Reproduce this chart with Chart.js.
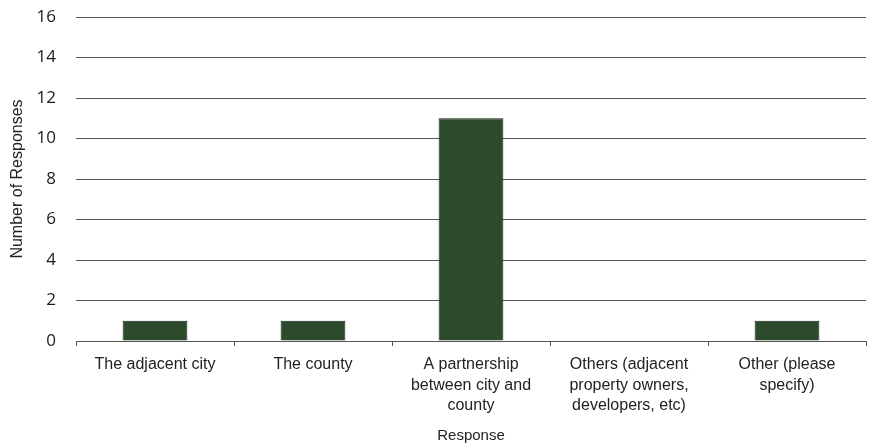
<!DOCTYPE html>
<html>
<head>
<meta charset="utf-8">
<script src="https://cdn.jsdelivr.net/npm/chart.js@4"></script>
<style>
  html, body { margin: 0; padding: 0; background: #fff; }
  #wrap { width: 878px; height: 447px; }
</style>
</head>
<body>
<div id="wrap"><canvas id="myChart"></canvas></div>
<script>
const categories = [
  'The adjacent city',
  'The county',
  ['A partnership', 'between city and', 'county'],
  ['Others (adjacent', 'property owners,', 'developers, etc)'],
  ['Other (please', 'specify)']
];
const responseCounts = [1, 1, 11, 0, 1];
const yTicks = [0, 2, 4, 6, 8, 10, 12, 14, 16];

const ctx = document.getElementById('myChart').getContext('2d');
const myChart = new Chart(ctx, {
  type: 'bar',
  data: {
    labels: categories,
    datasets: [{
      label: 'Number of Responses',
      data: responseCounts,
      backgroundColor: '#2e4a2c',
      borderColor: '#142016',
      borderWidth: 1,
      categoryPercentage: 1,
      barPercentage: 0.41
    }]
  },
  options: {
    responsive: true,
    maintainAspectRatio: false,
    animation: false,
    layout: { padding: { top: 17, right: 12, left: 8, bottom: 0 } },
    plugins: {
      legend: { display: false },
      tooltip: { enabled: false }
    },
    scales: {
      x: {
        offset: true,
        grid: {
          offset: true,
          drawOnChartArea: false,
          drawTicks: true,
          tickLength: 5,
          color: '#555'
        },
        border: { display: true, color: '#555', width: 1 },
        ticks: {
          color: '#222',
          font: { family: 'Liberation Sans, Arial, sans-serif', size: 16, lineHeight: 1.3 },
          maxRotation: 0,
          autoSkip: false,
          padding: 8
        },
        title: {
          display: true,
          text: 'Response',
          color: '#222',
          font: { family: 'Liberation Sans, Arial, sans-serif', size: 15 },
          padding: { top: 2, bottom: 2 }
        },
        afterFit: (scale) => { scale.height = 106; scale.paddingTop = 0; }
      },
      y: {
        min: 0,
        max: 16,
        afterBuildTicks: (scale) => { scale.ticks = yTicks.map((v) => ({ value: v })); },
        grid: {
          color: '#555',
          lineWidth: 1,
          drawTicks: false
        },
        border: { display: false },
        ticks: {
          color: '#1a1a1a',
          font: { family: 'Open Sans, sans-serif', size: 17 },
          padding: 20
        },
        title: {
          display: true,
          text: 'Number of Responses',
          color: '#222',
          font: { family: 'Liberation Sans, Arial, sans-serif', size: 16 },
          padding: { top: 0, bottom: 2 }
        },
        afterFit: (scale) => { scale.width = 68; scale.paddingTop = 0; scale.paddingBottom = 0; }
      }
    }
  }
});
</script>
</body>
</html>
